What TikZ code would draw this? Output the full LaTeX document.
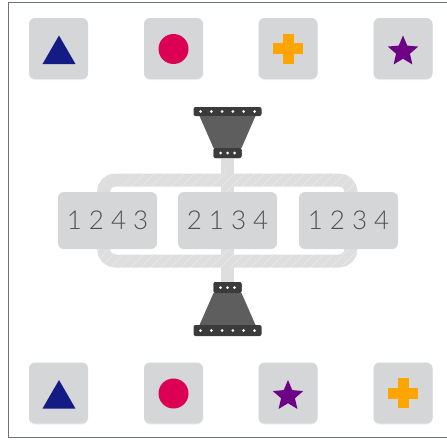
\documentclass[tikz,border=0pt]{standalone}
\usepackage{fontspec}
\setmainfont{Lato}[UprightFont=* Light]
\usepackage{xcolor}
\usepackage{tikz}
\usetikzlibrary{shapes.geometric, positioning, calc, shadows}
\definecolor{tilegray}{HTML}{D5D6D8}
\definecolor{pipegray}{HTML}{DEDEDF}
\definecolor{funnelgray}{HTML}{5E5E5E}
\definecolor{bargray}{HTML}{3B3B3B}
\definecolor{framegray}{HTML}{6B727A}
\definecolor{shapeblue}{HTML}{141B85}
\definecolor{shapered}{HTML}{DC0055}
\definecolor{shapeorange}{HTML}{FFA500}
\definecolor{shapepurple}{HTML}{6E0085}
\definecolor{digitgray}{HTML}{505050}

\begin{document}
\begin{tikzpicture}[
  x=1pt, y=-1pt,
  tile/.style={fill=tilegray, rounded corners=6pt, minimum width=59pt, minimum height=61pt, inner sep=0pt,
    drop shadow={opacity=0.12, shadow xshift=0pt, shadow yshift=-1pt}},
  numbox/.style={fill=tilegray, rounded corners=6pt, minimum width=99pt, minimum height=57pt, inner sep=0pt,
    font=\fontsize{26}{30}\selectfont, text=digitgray},
  tri/.style={regular polygon, regular polygon sides=3, fill=shapeblue, minimum size=38pt, inner sep=0pt},
  dot/.style={circle, fill=shapered, minimum size=30pt, inner sep=0pt},
  starmark/.style={star, star points=5, star point ratio=2.2, fill=shapepurple, minimum size=32pt, inner sep=0pt},
  bar/.style={fill=bargray, rounded corners=2pt, inner sep=0pt},
  pipe/.style={draw=pipegray, line width=13pt},
  stripe/.style={draw=white, opacity=0.35, line width=0.7pt},
]
  \useasboundingbox (0,0) rectangle (447,439);

  % Frame
  \draw[framegray, line width=0.8pt] (470,2) -- (8,2) -- (8,437) -- (470,437);

  % Top row
  \node[tile] (t1) at (58.5,48.5) {};
  \node[tile] (t2) at (173.5,48.5) {};
  \node[tile] (t3) at (288,48.5) {};
  \node[tile] (t4) at (403,48.5) {};
  \node[tri] (t1s) at (59,54.5) {};
  \node[dot] (t2s) at (173.5,49) {};
  \fill[shapeorange] ($(t3.center)+(-15,-5.5)$) rectangle ($(t3.center)+(15,5.5)$);
  \fill[shapeorange] ($(t3.center)+(-5.5,-15)$) rectangle ($(t3.center)+(5.5,15)$);
  \node[starmark] (t4s) at (403,51.5) {};

  % Bottom row
  \node[tile] (b1) at (58.5,393) {};
  \node[tile] (b2) at (173.5,393) {};
  \node[tile] (b3) at (288,393) {};
  \node[tile] (b4) at (403,393) {};
  \node[tri] (b1s) at (59,399) {};
  \node[dot] (b2s) at (173.5,393.5) {};
  \node[starmark] (b3s) at (288,396) {};
  \fill[shapeorange] ($(b4.center)+(-15,-5.5)$) rectangle ($(b4.center)+(15,5.5)$);
  \fill[shapeorange] ($(b4.center)+(-5.5,-15)$) rectangle ($(b4.center)+(5.5,15)$);

  % Funnels
  \node[bar, minimum width=68pt, minimum height=9pt] (topbar) at (227.5,111.5) {};
  \fill[funnelgray] (199.5,116) -- (255.5,116) -- (241.5,148) -- (213.5,148) -- cycle;
  \node[bar, minimum width=28pt, minimum height=10pt] (topneck) at (227.5,153) {};
  \node[bar, minimum width=28pt, minimum height=11pt] (botneck) at (227.5,287.5) {};
  \fill[funnelgray] (213.5,293) -- (241.5,293) -- (255.5,325) -- (199.5,325) -- cycle;
  \node[bar, minimum width=68pt, minimum height=11pt] (botbar) at (227.5,330.5) {};

  % Pipes
  \draw[pipe, rounded corners=12pt] (103.5,180) rectangle (351,261);
  \draw[pipe] (topneck.south) -- (botneck.north);
  \foreach \i in {0,...,34}
    \draw[stripe] (40+\i*10,268) -- (135+\i*10,173);

  % redraw funnel parts over the stripes
  \node[bar, minimum width=28pt, minimum height=10pt] at (topneck) {};
  \node[bar, minimum width=28pt, minimum height=11pt] at (botneck) {};
  \foreach \k in {0,...,5} {
    \fill[white] (200.5+\k*10.8,111.5) circle (1.5pt);
    \fill[white] (200.5+\k*10.8,330.5) circle (1.5pt);
  }
  \foreach \k in {-1,0,1} {
    \fill[white] (227.5+\k*7,153) circle (1.5pt);
    \fill[white] (227.5+\k*7,287.5) circle (1.5pt);
  }

  % Orders
  \node[numbox] (n1) at (107.5,220.5) {1 2 4 3};
  \node[numbox] (n2) at (227.5,220.5) {2 1 3 4};
  \node[numbox] (n3) at (348.5,220.5) {1 2 3 4};

\end{tikzpicture}
\end{document}
